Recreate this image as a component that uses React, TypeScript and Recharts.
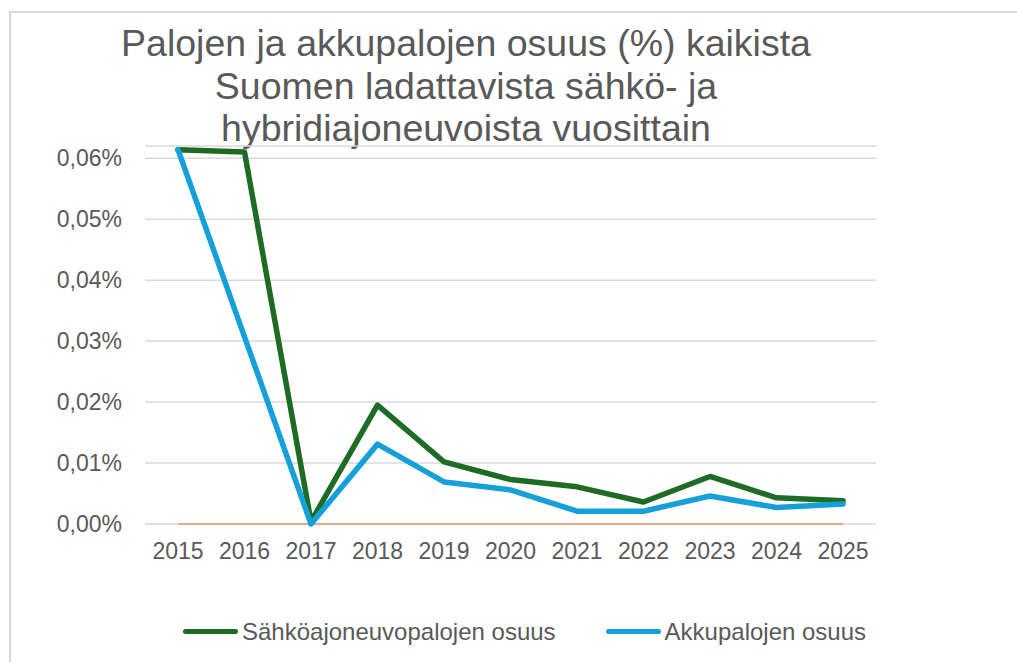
import { LineChart, Line, XAxis, YAxis, CartesianGrid, Legend } from "recharts";

const years = ["2015", "2016", "2017", "2018", "2019", "2020", "2021", "2022", "2023", "2024", "2025"];
// osuudet prosentteina
const sahkoajoneuvopalot = [0.0614, 0.061, 0.0004, 0.0195, 0.0102, 0.0073, 0.0061, 0.0036, 0.0078, 0.0043, 0.0038];
const akkupalot = [0.0614, 0.0307, 0, 0.0131, 0.0069, 0.0056, 0.0021, 0.0021, 0.0046, 0.0027, 0.0033];
const baseline = [0, 0, 0, 0, 0, 0, 0, 0, 0, 0, 0];
const yTicks = [0, 0.01, 0.02, 0.03, 0.04, 0.05, 0.06];
const seriesNames = ["Sähköajoneuvopalojen osuus", "Akkupalojen osuus"];

const titleLines = [
  "Palojen ja akkupalojen osuus (%) kaikista",
  "Suomen ladattavista sähkö- ja",
  "hybridiajoneuvoista vuosittain",
];

const data = years.map((year, i) => ({
  year,
  sahko: sahkoajoneuvopalot[i],
  akku: akkupalot[i],
  base: baseline[i],
}));

const FONT = "'Liberation Sans', Arial, sans-serif";
const TEXT = "#595959";

const fmt = (v: number) => `${v.toFixed(2).replace(".", ",")}%`;

function LegendContent(props: any) {
  const items = (props.payload || [])
    .filter((p: any) => seriesNames.includes(p.value))
    .sort((a: any, b: any) => seriesNames.indexOf(a.value) - seriesNames.indexOf(b.value));
  return (
    <div style={{ display: "flex", alignItems: "center", fontFamily: FONT, fontSize: 24, color: TEXT, lineHeight: "27px" }}>
      {items.map((p: any, i: number) => (
        <div key={p.value} style={{ display: "flex", alignItems: "center", marginLeft: i === 0 ? 0 : 50 }}>
          <span style={{ display: "inline-block", width: 55, height: 5.5, borderRadius: 3, background: p.color, marginRight: 4 }} />
          <span>{p.value}</span>
        </div>
      ))}
    </div>
  );
}

export default function App() {
  return (
    <div style={{ position: "fixed", left: 0, top: 0, width: 1017, height: 662, overflow: "hidden", background: "#fff" }}>
      <div
        style={{
          position: "absolute",
          left: 9,
          top: 11,
          right: 0,
          bottom: 0,
          borderTop: "2px solid #D9D9D9",
          borderLeft: "2px solid #D9D9D9",
        }}
      />
      <div
        style={{
          position: "absolute",
          left: 0,
          top: 22,
          width: 932,
          textAlign: "center",
          fontFamily: FONT,
          fontSize: 37.5,
          lineHeight: "42.5px",
          color: TEXT,
        }}
      >
        {titleLines.map((t) => (
          <div key={t}>{t}</div>
        ))}
      </div>
      <div style={{ position: "absolute", left: 0, top: 0 }}>
        <LineChart width={1017} height={662} data={data} margin={{ top: 146, right: 141, bottom: 108, left: 0 }}>
          <CartesianGrid vertical={false} stroke="#D9D9D9" strokeWidth={1.5} />
          <XAxis
            dataKey="year"
            axisLine={false}
            tickLine={false}
            tickSize={0}
            tickMargin={19}
            height={30}
            interval={0}
            padding={{ left: 33, right: 33 }}
            tick={{ fill: TEXT, fontSize: 23, fontFamily: FONT }}
          />
          <YAxis
            domain={[0, 0.062]}
            ticks={yTicks}
            tickFormatter={fmt}
            axisLine={false}
            tickLine={false}
            tickSize={0}
            tickMargin={23}
            width={145}
            tick={{ fill: TEXT, fontSize: 23, fontFamily: FONT }}
          />
          <Legend
            verticalAlign="middle"
            align="center"
            layout="horizontal"
            content={<LegendContent />}
            wrapperStyle={{ left: 183, top: 618, width: 760 }}
          />
          <Line
            dataKey="base"
            name="base"
            legendType="none"
            stroke="#E5A98B"
            strokeWidth={2}
            dot={false}
            activeDot={false}
            isAnimationActive={false}
          />
          <Line
            dataKey="sahko"
            name={seriesNames[0]}
            stroke="#1D6B25"
            strokeWidth={5.5}
            strokeLinejoin="round"
            strokeLinecap="round"
            dot={false}
            activeDot={false}
            isAnimationActive={false}
          />
          <Line
            dataKey="akku"
            name={seriesNames[1]}
            stroke="#16A0D9"
            strokeWidth={5.5}
            strokeLinejoin="round"
            strokeLinecap="round"
            dot={false}
            activeDot={false}
            isAnimationActive={false}
          />
        </LineChart>
      </div>
    </div>
  );
}
